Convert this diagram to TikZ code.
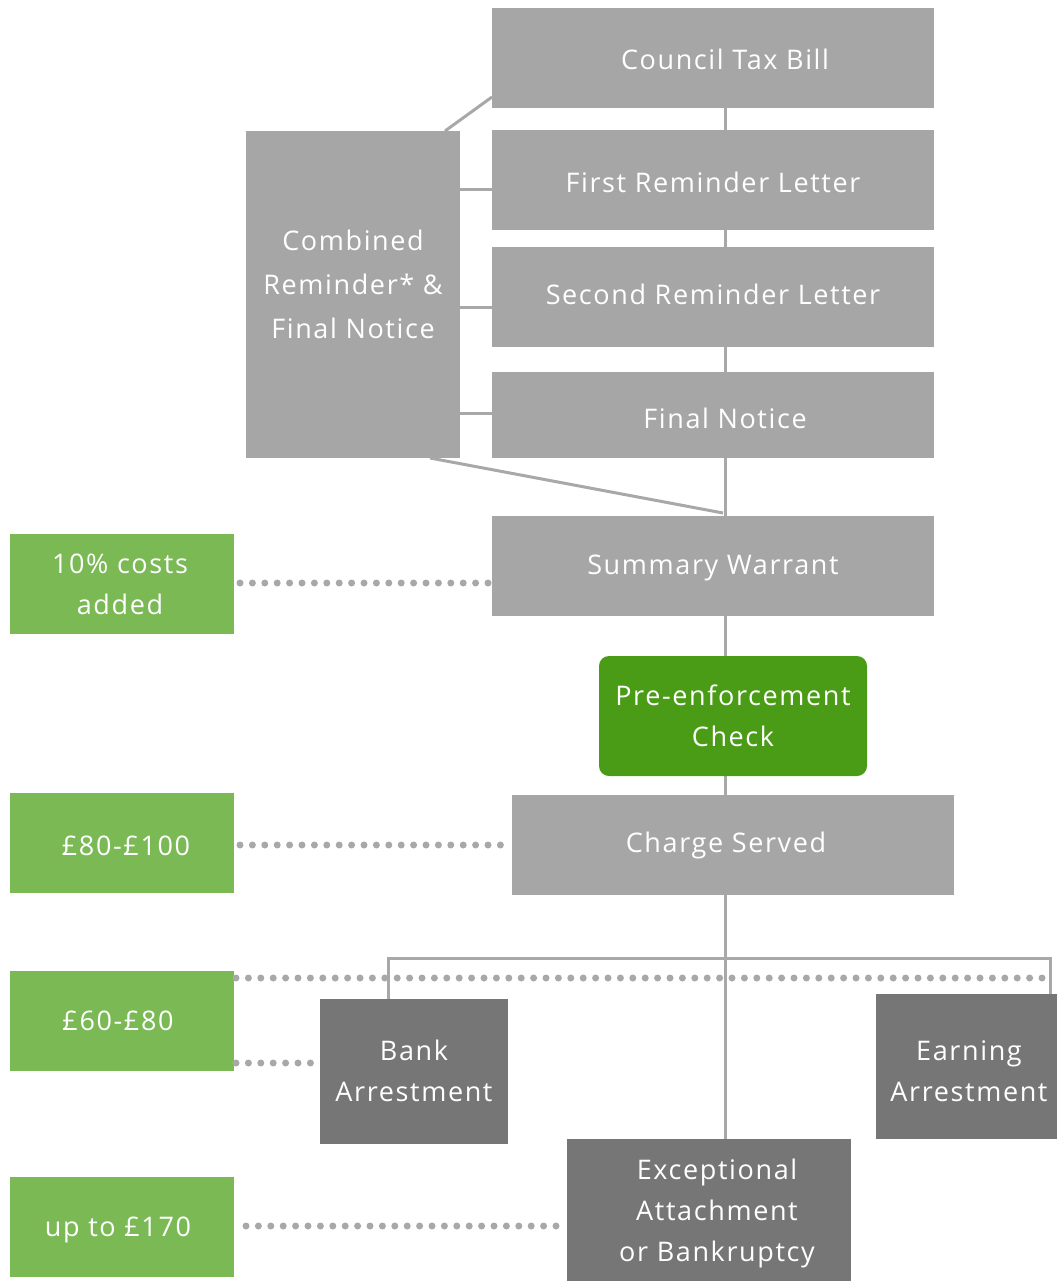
\documentclass[tikz,border=0pt]{standalone}
\usepackage{fontspec}
\setmainfont{Open Sans}[LetterSpace=6]
\usetikzlibrary{backgrounds}
\definecolor{boxgray}{HTML}{A6A6A6}
\definecolor{darkgray}{HTML}{767676}
\definecolor{lightgreen}{HTML}{7AB954}
\definecolor{darkgreen}{HTML}{4A9C16}
\definecolor{linegray}{HTML}{A8A8A8}
\begin{document}
\begin{tikzpicture}[x=1pt,y=-1pt,
  base/.style={inner sep=0pt, outer sep=0pt},
  graybox/.style={base, fill=boxgray},
  darkbox/.style={base, fill=darkgray},
  costbox/.style={base, fill=lightgreen},
  checkbox/.style={base, fill=darkgreen, rounded corners=10pt},
  txt/.style={inner sep=0pt, text=white, align=center, font=\fontsize{27}{41}\selectfont},
  conn/.style={draw=linegray, line width=3pt},
  dotline/.style={draw=linegray, line width=7pt, line cap=round, dash pattern=on 0pt off 12.4pt}
]
\useasboundingbox (0,0) rectangle (1057,1281);
% boxes
\node[graybox, minimum width=442pt, minimum height=100pt] (bill) at (713,58) {};
\node[graybox, minimum width=442pt, minimum height=100pt] (first) at (713,180) {};
\node[graybox, minimum width=442pt, minimum height=100pt] (second) at (713,297) {};
\node[graybox, minimum width=442pt, minimum height=86pt] (final) at (713,415) {};
\node[graybox, minimum width=214pt, minimum height=327pt] (comb) at (353,294.5) {};
\node[graybox, minimum width=442pt, minimum height=100pt] (warrant) at (713,566) {};
\node[checkbox, minimum width=268pt, minimum height=120pt] (check) at (733,716) {};
\node[graybox, minimum width=442pt, minimum height=100pt] (charge) at (733,845) {};
\node[darkbox, minimum width=188pt, minimum height=145pt] (bank) at (414,1071.5) {};
\node[darkbox, minimum width=181pt, minimum height=145pt] (earn) at (966.5,1066.5) {};
\node[darkbox, minimum width=284pt, minimum height=142pt] (exc) at (709,1210) {};
\node[costbox, minimum width=224pt, minimum height=100pt] (c1) at (122,584) {};
\node[costbox, minimum width=224pt, minimum height=100pt] (c2) at (122,843) {};
\node[costbox, minimum width=224pt, minimum height=100pt] (c3) at (122,1021) {};
\node[costbox, minimum width=224pt, minimum height=100pt] (c4) at (122,1227) {};
% texts
\node[txt] (tbill) at (725,59) {Council Tax Bill};
\node[txt] (tfirst) at (713,182) {First Reminder Letter};
\node[txt] (tsecond) at (713,294) {Second Reminder Letter};
\node[txt] (tfinal) at (725,418) {Final Notice};
\node[txt, font=\fontsize{27}{44}\selectfont] (tcomb) at (353,284) {Combined\\Reminder* \&\\Final Notice};
\node[txt] (twarrant) at (713,568) {Summary Warrant};
\node[txt] (tcheck) at (733,716) {Pre-enforcement\\Check};
\node[txt] (tcharge) at (726,845) {Charge Served};
\node[txt] (tbank) at (414,1071) {Bank\\Arrestment};
\node[txt] (tearn) at (969,1071) {Earning\\Arrestment};
\node[txt] (texc) at (717,1213) {Exceptional\\Attachment\\or Bankruptcy};
\node[txt] (tc1) at (120,584) {10\% costs\\added};
\node[txt] (tc2) at (126,846) {£80-£100};
\node[txt] (tc3) at (118,1021) {£60-£80};
\node[txt] (tc4) at (118,1230) {up to £170};
% coordinates
\coordinate (brL) at (388,958);
\coordinate (brR) at (1050,958);
\coordinate (cTopA) at (445,131);
\coordinate (cTopB) at (492,97);
\coordinate (cBotA) at (430,458);
\coordinate (cBotB) at (723,513);
% connectors behind boxes
\begin{scope}[on background layer]
\draw[conn] (bill.south -| 725,0) -- (exc.north -| 725,0);
\draw[conn] (brL |- bank.north) -- (brL) -- (brR) -- (brR |- earn.north);
\draw[conn] (cTopA) -- (cTopB);
\draw[conn] (comb.east |- 0,190) -- (first.west |- 0,190);
\draw[conn] (comb.east |- 0,307) -- (second.west |- 0,307);
\draw[conn] (comb.east |- 0,413) -- (final.west |- 0,413);
\draw[conn] (cBotA) -- (cBotB);
\end{scope}
% dotted lines
\draw[dotline] (c1.east |- 0,583) ++(6,0) -- (warrant.west |- 0,583);
\draw[dotline] (c2.east |- 0,845) ++(6,0) -- (charge.west |- 0,845);
\draw[dotline] (c3.east |- 0,978) ++(2,0) -- (brR |- 0,978);
\draw[dotline] (c3.east |- 0,1063) ++(2,0) -- (bank.west |- 0,1063);
\draw[dotline] (c4.east |- 0,1226) ++(12,0) -- (exc.west |- 0,1226);
\end{tikzpicture}
\end{document}
